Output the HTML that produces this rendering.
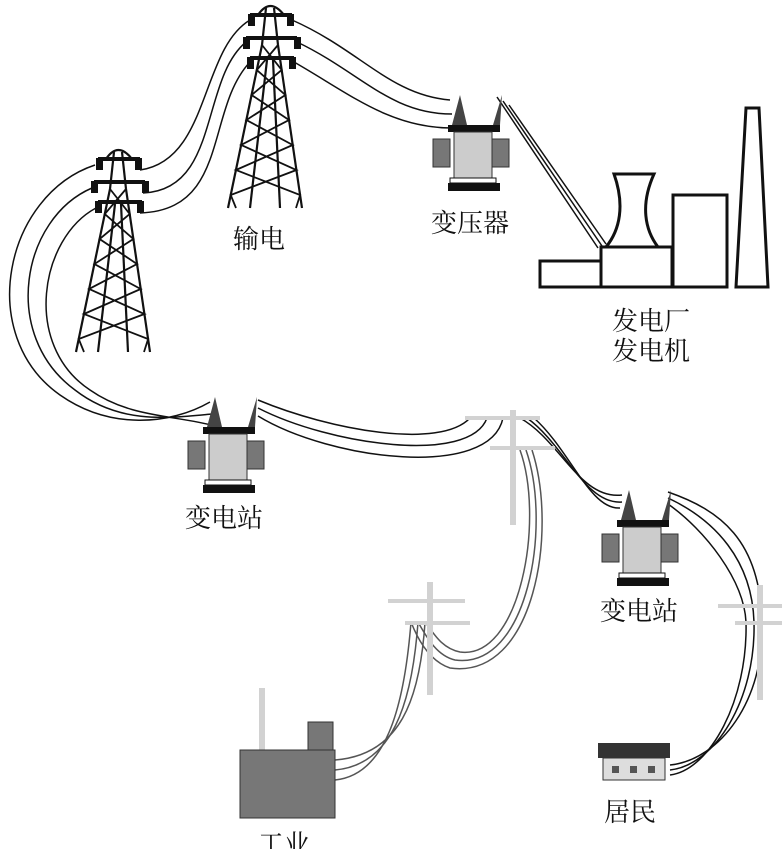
<!DOCTYPE html>
<html><head><meta charset="utf-8"><style>
html,body{margin:0;padding:0;background:#fff;}
svg{display:block;}
text{font-family:"Liberation Serif","Noto Serif CJK SC",serif;font-size:26px;fill:#111;}
</style></head><body>
<svg width="782" height="849" viewBox="0 0 782 849" xmlns="http://www.w3.org/2000/svg">
<defs>
<g id="tower" stroke="#111" fill="none" stroke-width="2.2">
<path d="M258,15 Q270,-3 284,15"/>
<line x1="262" y1="45" x2="228" y2="208"/>
<line x1="278" y1="45" x2="302" y2="208"/>
<line x1="267" y1="60" x2="250" y2="208"/>
<line x1="273" y1="60" x2="280" y2="208"/>
<line x1="266" y1="8" x2="262" y2="45"/><line x1="274" y1="8" x2="278" y2="45"/>
<polyline points="262,45 281.7,70 251.6,95 289,120 241.1,145 296.4,170 230.7,195 236,208" stroke-width="1.8"/>
<polyline points="278,45 256.8,70 285.4,95 246.4,120 292.7,145 235.9,170 300.1,195 296,208" stroke-width="1.8"/>
<line x1="250" y1="15" x2="292" y2="15" stroke-width="4"/>
<line x1="246" y1="38" x2="297" y2="38" stroke-width="4"/>
<line x1="250" y1="58" x2="294" y2="58" stroke-width="4"/>
<g fill="#111" stroke="none">
<rect x="248" y="14" width="7" height="12"/><rect x="287" y="14" width="7" height="12"/>
<rect x="243" y="37" width="7" height="12"/><rect x="294" y="37" width="7" height="12"/>
<rect x="247" y="57" width="7" height="12"/><rect x="289" y="57" width="7" height="12"/>
</g>
</g>
<g id="xf">
<path d="M12,22 L20,-8 L27,22 Z" fill="#444"/>
<path d="M62,-8 L53,22 L60,22 Z" fill="#444"/>
<rect x="8" y="22" width="52" height="7" fill="#111"/>
<rect x="-7" y="36" width="17" height="28" fill="#777" stroke="#333"/>
<rect x="52" y="36" width="17" height="28" fill="#777" stroke="#333"/>
<rect x="14" y="29" width="38" height="46" fill="#ccc" stroke="#333"/>
<rect x="10" y="75" width="46" height="5" fill="#fff" stroke="#111"/>
<rect x="8" y="80" width="52" height="8" fill="#111"/>
</g>
</defs>

<use href="#tower"/>
<use href="#tower" transform="translate(-152,144)"/>

<g stroke="#111" fill="none" stroke-width="1.5">
<path d="M292,20 C360,50 390,95 450,100"/>
<path d="M297,42 C360,72 390,114 452,114"/>
<path d="M294,62 C350,94 390,128 452,128"/>
<path d="M250,20 C200,50 210,160 140,170"/>
<path d="M246,42 C200,80 220,190 143,193"/>
<path d="M250,62 C205,110 230,210 140,213"/>
<path d="M95,165 C5,195 -25,335 60,395 C110,430 170,425 210,402"/>
<path d="M92,188 C22,218 0,335 75,390 C120,425 170,418 212,414"/>
<path d="M96,208 C40,238 22,345 90,390 C130,418 175,415 215,426"/>
<path d="M497,97 L598,248"/><path d="M503,101 L602,246"/><path d="M509,105 L606,244"/>
<path d="M258,400 C330,430 440,450 470,418"/>
<path d="M258,408 C330,445 470,465 487,418"/>
<path d="M258,416 C330,460 490,480 503,418"/>
<path d="M520,418 C560,440 580,500 622,495"/>
<path d="M527,418 C565,445 585,505 622,502"/>
<path d="M534,418 C570,450 590,510 620,508"/>
<path d="M520,450 C545,520 520,660 460,652 C440,648 432,630 425,622" stroke="#555"/>
<path d="M526,450 C552,525 528,670 455,660 C438,656 428,640 418,622" stroke="#555"/>
<path d="M532,450 C558,530 535,680 450,668 C432,662 420,645 411,622" stroke="#555"/>
<path d="M425,622 C420,700 400,755 335,760" stroke="#555"/>
<path d="M418,622 C412,705 392,765 335,770" stroke="#555"/>
<path d="M411,622 C404,710 385,775 335,780" stroke="#555"/>
<path d="M668,492 C720,510 760,540 762,622 C765,700 720,760 670,765"/>
<path d="M668,498 C715,520 752,560 754,622 C756,700 715,765 670,770"/>
<path d="M668,504 C705,530 744,580 746,622 C748,700 710,770 670,775"/>
</g>

<use href="#xf" transform="translate(440,103)"/>
<use href="#xf" transform="translate(195,405)"/>
<use href="#xf" transform="translate(609,498)"/>

<g fill="#d2d2d2">
<rect x="510" y="410" width="6" height="115"/>
<rect x="465" y="416" width="75" height="4"/><rect x="490" y="446" width="65" height="4"/>
<rect x="427" y="582" width="6" height="113"/>
<rect x="388" y="599" width="77" height="4"/><rect x="405" y="621" width="65" height="4"/>
<rect x="757" y="585" width="6" height="115"/>
<rect x="718" y="604" width="64" height="4"/><rect x="735" y="621" width="47" height="4"/>
<rect x="259" y="688" width="6" height="62"/>
</g>

<g fill="#fff" stroke="#111" stroke-width="3">
<rect x="540" y="261" width="61" height="26"/>
<path d="M614,174 L654,174 C640,205 645,230 658,247 L606,247 C620,230 625,205 614,174 Z"/>
<rect x="601" y="247" width="71" height="40"/>
<rect x="673" y="195" width="54" height="92"/>
<path d="M736,287 L746,108 L759,108 L768,287 Z"/>
</g>

<rect x="240" y="750" width="95" height="68" fill="#777" stroke="#333"/>
<rect x="308" y="722" width="25" height="28" fill="#777" stroke="#333"/>
<rect x="598" y="743" width="72" height="15" fill="#333"/>
<rect x="603" y="758" width="62" height="22" fill="#ddd" stroke="#333"/>
<rect x="612" y="766" width="7" height="7" fill="#555"/><rect x="630" y="766" width="7" height="7" fill="#555"/><rect x="648" y="766" width="7" height="7" fill="#555"/>

<text x="233" y="248">输电</text>
<text x="431" y="232">变压器</text>
<text x="612" y="330">发电厂</text>
<text x="612" y="360">发电机</text>
<text x="185" y="527">变电站</text>
<text x="600" y="620">变电站</text>
<text x="604" y="821">居民</text>
<text x="258" y="853">工业</text>
</svg>
</body></html>
